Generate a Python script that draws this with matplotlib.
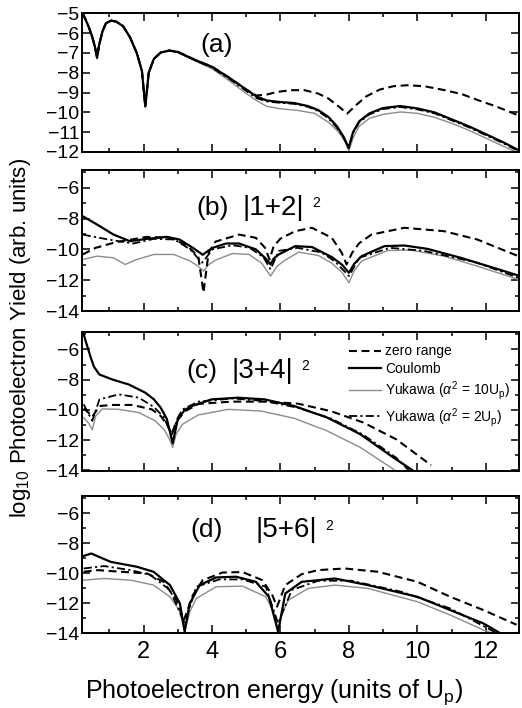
import matplotlib
matplotlib.use("Agg")
import matplotlib.pyplot as plt
from matplotlib.ticker import MultipleLocator

plt.rcParams['font.family'] = ['Liberation Sans', 'DejaVu Sans']
plt.rcParams['mathtext.fontset'] = 'custom'
plt.rcParams['mathtext.rm'] = 'Liberation Sans'
plt.rcParams['mathtext.it'] = 'Liberation Sans:italic'
plt.rcParams['mathtext.bf'] = 'Liberation Sans:bold'

# ---------------- data ----------------
# panel (a)
a_coul_x = [0.22, 0.3, 0.4, 0.5, 0.58, 0.64, 0.7, 0.8, 0.9, 1.05, 1.2, 1.4, 1.6, 1.8, 1.95, 2.05, 2.15, 2.3, 2.5, 2.75,
            3.0, 3.5, 4.0, 4.5, 5.0, 5.3, 5.6, 6.0, 6.4, 6.8, 7.1, 7.4, 7.65, 7.85, 7.99, 8.12, 8.3, 8.6, 9.0, 9.5,
            10.0, 10.5, 11.0, 11.5, 12.0, 12.5, 12.95]
a_coul_y = [-5.0, -5.3, -5.7, -6.2, -6.7, -7.25, -6.6, -5.9, -5.5, -5.37, -5.42, -5.65, -6.2, -7.0, -7.9, -9.7, -8.0, -7.3, -6.98, -6.88,
            -6.95, -7.35, -7.7, -8.25, -8.85, -9.2, -9.4, -9.48, -9.53, -9.68, -9.88, -10.23, -10.7, -11.25, -11.8, -11.0, -10.45, -10.05, -9.78, -9.68,
            -9.8, -10.0, -10.35, -10.7, -11.1, -11.5, -11.9]
a_zero_x = [0.22, 0.3, 0.4, 0.5, 0.58, 0.64, 0.7, 0.8, 0.9, 1.05, 1.2, 1.4, 1.6, 1.8, 1.95, 2.05, 2.15, 2.3, 2.5, 2.75,
            3.0, 3.5, 4.0, 4.5, 5.0, 5.3, 5.6, 5.9, 6.3, 6.7, 7.1, 7.4, 7.7, 7.95, 8.2, 8.5, 8.9, 9.3, 9.7, 10.2,
            10.8, 11.3, 11.8, 12.3, 12.95]
a_zero_y = [-5.0, -5.3, -5.7, -6.2, -6.7, -7.25, -6.6, -5.9, -5.5, -5.37, -5.42, -5.65, -6.2, -7.0, -7.9, -9.7, -8.0, -7.3, -6.98, -6.88,
            -6.95, -7.35, -7.7, -8.25, -8.85, -9.15, -9.1, -8.97, -8.88, -8.88, -9.05, -9.3, -9.7, -10.06, -9.65, -9.2, -8.85, -8.68, -8.63, -8.68,
            -8.88, -9.08, -9.4, -9.7, -10.15]
a_yuk10_x = [0.22, 0.3, 0.4, 0.5, 0.58, 0.64, 0.7, 0.8, 0.9, 1.05, 1.2, 1.4, 1.6, 1.8, 1.95, 2.05, 2.15, 2.3, 2.5, 2.75,
             3.0, 3.5, 4.0, 4.5, 5.0, 5.3, 5.6, 6.0, 6.5, 7.0, 7.4, 7.7, 7.9, 8.0, 8.12, 8.3, 8.6, 9.0, 9.5, 10.0,
             10.5, 11.0, 11.5, 12.0, 12.5, 12.95]
a_yuk10_y = [-5.0, -5.3, -5.7, -6.2, -6.7, -7.25, -6.6, -5.9, -5.5, -5.37, -5.42, -5.65, -6.2, -7.0, -7.9, -9.7, -8.0, -7.3, -6.98, -6.88,
             -6.97, -7.4, -7.8, -8.4, -9.05, -9.4, -9.7, -9.82, -9.9, -10.05, -10.5, -11.0, -11.5, -11.95, -11.3, -10.7, -10.3, -10.1, -9.98, -10.05,
             -10.25, -10.55, -10.9, -11.3, -11.7, -12.05]
a_yuk2_x = [0.22, 0.3, 0.4, 0.5, 0.58, 0.64, 0.7, 0.8, 0.9, 1.05, 1.2, 1.4, 1.6, 1.8, 1.95, 2.05, 2.15, 2.3, 2.5, 2.75,
            3.0, 3.5, 4.0, 4.5, 5.0, 5.3, 5.6, 6.0, 6.4, 6.8, 7.1, 7.4, 7.65, 7.85, 7.99, 8.12, 8.3, 8.6, 9.0, 9.5,
            10.0, 10.5, 11.0, 11.5, 12.0, 12.5, 12.95]
a_yuk2_y = [-5.0, -5.3, -5.7, -6.2, -6.7, -7.25, -6.6, -5.9, -5.5, -5.37, -5.42, -5.65, -6.2, -7.0, -7.9, -9.7, -8.0, -7.3, -6.98, -6.88,
            -6.96, -7.37, -7.74, -8.3, -8.92, -9.28, -9.45, -9.52, -9.57, -9.72, -9.93, -10.3, -10.78, -11.3, -11.8, -11.05, -10.5, -10.1, -9.83, -9.73,
            -9.85, -10.05, -10.4, -10.75, -11.15, -11.55, -11.95]

# panel (b)  |1+2|^2
b_coul_x = [0.22, 0.64, 1.12, 1.6, 2.09, 2.67, 3.05, 3.44, 3.6, 3.73, 3.85, 4.02, 4.41, 4.79, 5.28, 5.57, 5.71, 5.8, 5.95, 6.43,
            6.92, 7.5, 7.8, 8.0, 8.15, 8.37, 9.04, 9.62, 10.3, 11.27, 12.23, 12.95]
b_coul_y = [-7.85, -8.39, -9.04, -9.47, -9.32, -9.19, -9.36, -9.9, -10.15, -10.35, -10.15, -9.9, -9.62, -9.62, -10.0, -10.6, -10.98, -10.6, -10.33, -9.79,
            -9.85, -10.5, -11.0, -11.52, -10.95, -10.44, -9.79, -9.75, -9.97, -10.55, -11.2, -11.7]
b_zero_x = [0.22, 0.6, 1.2, 2.09, 2.8, 3.3, 3.6, 3.75, 3.9, 4.1, 4.79, 5.28, 5.55, 5.68, 5.8, 6.0, 6.43, 6.92, 7.5, 7.79,
            7.93, 8.1, 8.3, 8.66, 9.62, 10.78, 11.75, 12.95]
b_zero_y = [-10.33, -9.9, -9.53, -9.19, -9.25, -9.8, -10.5, -12.8, -10.2, -9.5, -9.04, -9.25, -9.9, -10.66, -9.8, -9.3, -8.82, -8.6, -9.25, -10.22,
            -10.98, -10.2, -9.6, -9.04, -8.6, -8.82, -9.36, -10.44]
b_yuk10_x = [0.22, 0.64, 1.12, 1.46, 1.8, 2.3, 2.88, 3.36, 3.6, 3.75, 3.9, 4.1, 4.6, 5.08, 5.45, 5.71, 5.9, 6.1, 6.53, 7.11,
             7.5, 7.8, 8.0, 8.15, 8.37, 9.14, 9.82, 10.78, 11.75, 12.95]
b_yuk10_y = [-10.66, -10.44, -10.55, -10.98, -10.66, -10.33, -10.33, -10.76, -11.1, -11.41, -11.0, -10.7, -10.27, -10.33, -10.9, -11.73, -11.1, -10.75, -10.18, -10.4,
             -10.9, -11.5, -12.17, -11.4, -10.76, -10.07, -10.05, -10.44, -11.09, -11.95]
b_yuk2_x = [0.22, 0.7, 1.26, 1.7, 2.3, 2.9, 3.36, 3.71, 4.02, 4.6, 5.1, 5.5, 5.71, 5.95, 6.5, 7.2, 7.6, 8.0, 8.3, 9.2,
            10.2, 11.75, 12.95]
b_yuk2_y = [-9.04, -9.25, -9.47, -9.62, -9.32, -9.36, -10.0, -10.87, -10.0, -9.73, -9.9, -10.5, -11.3, -10.1, -9.9, -10.2, -10.8, -11.73, -10.55, -9.9,
            -10.1, -10.87, -11.84]

# panel (c)  |3+4|^2
c_coul_x = [0.25, 0.3, 0.37, 0.45, 0.55, 0.71, 1.09, 1.57, 2.05, 2.3, 2.5, 2.68, 2.85, 3.0, 3.2, 3.41, 3.99, 4.76, 5.53, 6.4,
            7.36, 8.33, 9.29, 9.87]
c_coul_y = [-5.0, -5.4, -5.91, -6.5, -7.15, -7.66, -7.99, -8.32, -8.86, -9.3, -9.85, -10.6, -12.2, -10.6, -10.0, -9.74, -9.3, -9.19, -9.3, -9.74,
            -10.5, -11.6, -13.13, -14.0]
c_zero_x = [0.25, 0.4, 0.5, 0.71, 1.09, 1.67, 2.24, 2.5, 2.7, 2.82, 2.95, 3.2, 3.6, 4.57, 5.53, 6.5, 7.46, 8.42, 9.39, 10.4]
c_zero_y = [-9.9, -10.2, -10.45, -9.74, -9.67, -9.67, -9.96, -10.4, -11.0, -11.6, -10.8, -10.1, -9.6, -9.45, -9.45, -9.58, -10.07, -10.83, -11.95, -13.65]
c_yuk10_x = [0.25, 0.4, 0.5, 0.6, 0.8, 1.28, 1.86, 2.34, 2.6, 2.75, 2.85, 2.95, 3.14, 3.6, 4.47, 5.43, 6.4, 7.36, 8.33, 9.29, 9.35]
c_yuk10_y = [-10.5, -10.9, -11.3, -10.4, -9.93, -9.96, -10.17, -10.72, -11.3, -11.9, -12.47, -11.6, -10.94, -10.33, -9.96, -10.07, -10.55, -11.38, -12.47, -13.9, -14.0]
c_yuk2_x = [0.25, 0.4, 0.5, 0.71, 1.28, 1.86, 2.3, 2.6, 2.82, 3.0, 3.14, 3.6, 4.6, 5.53, 6.5, 7.46, 8.42, 9.39, 9.75]
c_yuk2_y = [-9.63, -10.3, -10.72, -9.3, -8.97, -9.19, -9.8, -10.5, -11.7, -10.5, -9.96, -9.45, -9.24, -9.41, -9.85, -10.55, -11.64, -13.17, -14.0]

# panel (d)  |5+6|^2
d_coul_x = [0.25, 0.47, 1.04, 1.81, 2.29, 2.77, 3.06, 3.2, 3.35, 3.64, 4.12, 4.7, 5.28, 5.66, 5.93, 6.14, 6.62, 7.59, 8.55, 10.0,
            10.96, 11.93, 12.41]
d_coul_y = [-8.85, -8.69, -9.25, -9.58, -9.91, -10.8, -12.02, -13.9, -12.02, -10.8, -10.29, -10.24, -10.58, -11.58, -13.9, -11.36, -10.58, -10.36, -10.8, -11.58,
            -12.47, -13.36, -14.0]
d_zero_x = [0.25, 0.66, 1.33, 2.1, 2.58, 2.96, 3.18, 3.44, 3.73, 4.31, 4.89, 5.47, 5.76, 5.9, 6.14, 6.62, 7.1, 7.88, 8.84, 10.0,
            10.96, 11.93, 12.9]
d_zero_y = [-9.91, -9.8, -9.91, -10.02, -10.58, -11.8, -13.13, -11.47, -10.47, -9.96, -9.93, -10.47, -11.47, -12.24, -10.8, -10.07, -9.8, -9.69, -9.91, -10.58,
            -11.58, -12.47, -13.45]
d_yuk10_x = [0.25, 0.85, 1.62, 2.29, 2.77, 3.05, 3.2, 3.35, 3.54, 4.12, 4.89, 5.57, 5.8, 5.93, 6.05, 6.23, 6.81, 7.59, 8.55, 10.0,
             10.96, 11.93, 12.17]
d_yuk10_y = [-10.47, -10.36, -10.47, -10.8, -11.58, -12.5, -13.9, -12.6, -11.69, -10.91, -10.87, -11.58, -12.6, -13.9, -12.7, -11.8, -11.02, -10.8, -11.02, -11.91,
             -12.8, -13.8, -14.0]
d_yuk2_x = [0.25, 0.85, 1.62, 2.2, 2.77, 3.2, 3.54, 4.22, 4.89, 5.57, 5.93, 6.33, 7.1, 8.07, 9.52, 10.96, 12.31]
d_yuk2_y = [-9.69, -9.53, -9.8, -10.13, -11.13, -13.36, -10.91, -10.42, -10.42, -10.91, -13.36, -11.13, -10.51, -10.51, -11.24, -12.36, -14.0]

series_labels = ['zero range', 'Coulomb', r'Yukawa ($\alpha^{2}$ = 10U$_{\rm p}$)', r'Yukawa ($\alpha^{2}$ = 2U$_{\rm p}$)']
panel_tags = ['(a)', '(b)', '(c)', '(d)']
panel_terms = ['', '|1+2|', '|3+4|', '|5+6|']
x_ticks = [2, 4, 6, 8, 10, 12]
x_label = r'Photoelectron energy (units of U$_{\rm p}$)'
y_label = r'log$_{10}$ Photoelectron Yield (arb. units)'

# ---------------- figure ----------------
W, H = 522, 708
fig = plt.figure(figsize=(W / 100, H / 100), dpi=100)

def frac(top_px, bot_px):
    return [82 / W, 1 - bot_px / H, (519 - 82) / W, (bot_px - top_px) / H]

axes = [fig.add_axes(frac(13.3, 152)),
        fig.add_axes(frac(170, 311)),
        fig.add_axes(frac(332, 470.5)),
        fig.add_axes(frac(496, 633))]

styles = dict(
    zero=dict(color='black', lw=1.5, ls=(0, (3.8, 2.2))),
    coul=dict(color='black', lw=1.6, ls='-'),
    yuk10=dict(color='0.55', lw=1.0, ls='-'),
    yuk2=dict(color='black', lw=1.3, ls=(0, (4.5, 1.8, 1.2, 1.8))),
)

data = [
    (a_zero_x, a_zero_y, a_coul_x, a_coul_y, a_yuk10_x, a_yuk10_y, a_yuk2_x, a_yuk2_y),
    (b_zero_x, b_zero_y, b_coul_x, b_coul_y, b_yuk10_x, b_yuk10_y, b_yuk2_x, b_yuk2_y),
    (c_zero_x, c_zero_y, c_coul_x, c_coul_y, c_yuk10_x, c_yuk10_y, c_yuk2_x, c_yuk2_y),
    (d_zero_x, d_zero_y, d_coul_x, d_coul_y, d_yuk10_x, d_yuk10_y, d_yuk2_x, d_yuk2_y),
]

for i, ax in enumerate(axes):
    zx, zy, cx, cy, y1x, y1y, y2x, y2y = data[i]
    ax.plot(y1x, y1y, label=series_labels[2], zorder=2, **styles['yuk10'])
    ax.plot(y2x, y2y, label=series_labels[3], zorder=3, **styles['yuk2'])
    ax.plot(zx, zy, label=series_labels[0], zorder=3, **styles['zero'])
    ax.plot(cx, cy, label=series_labels[1], zorder=4, **styles['coul'])
    ax.set_xlim(0.2, 12.97)
    ax.xaxis.set_major_locator(MultipleLocator(2))
    ax.xaxis.set_minor_locator(MultipleLocator(1))
    if i == 0:
        ax.set_ylim(-12, -5)
        ax.yaxis.set_major_locator(MultipleLocator(1))
    else:
        ax.set_ylim(-14, -4.85)
        ax.set_yticks([-14, -12, -10, -8, -6])
        ax.yaxis.set_minor_locator(MultipleLocator(1))
    ax.tick_params(which='both', direction='in', top=True, right=True, width=1.1)
    ax.tick_params(which='major', length=5.5)
    ax.tick_params(which='minor', length=3)
    ax.tick_params(axis='y', labelsize=14, pad=2)
    ax.tick_params(axis='x', labelsize=17, pad=6)
    for sp in ax.spines.values():
        sp.set_linewidth(1.4)
    if i < 3:
        ax.set_xticklabels([])
    else:
        ax.set_xticks(x_ticks)

# panel annotations
axes[0].text(3.65, -6.6, panel_tags[0], fontsize=19, va='center', ha='left')
ann = [(1, 3.54, -7.3, 4.88), (2, 3.24, -7.4, 4.57), (3, 3.36, -7.15, 5.27)]
for idx, xt, yt, xm in ann:
    axes[idx].text(xt, yt, panel_tags[idx], fontsize=19, va='center', ha='left')
    term = axes[idx].text(xm, yt, panel_terms[idx], fontsize=20, va='center', ha='left')
    axes[idx].annotate('2', xy=(1, 1), xycoords=term, xytext=(6, -1),
                       textcoords='offset points', fontsize=10, va='top', ha='left')

# legend in panel (c)
h, l = axes[2].get_legend_handles_labels()
order = [2, 3, 0, 1]
axes[2].legend([h[k] for k in order], [l[k] for k in order], loc='upper left',
               bbox_to_anchor=(0.612, 0.91), frameon=False, fontsize=10,
               handlelength=2.3, handletextpad=0.25, labelspacing=0.25,
               borderpad=0, borderaxespad=0)

fig.text(0.04, 0.522, y_label, rotation=90, fontsize=16, ha='center', va='center')
fig.text(0.525, 0.022, x_label, fontsize=18, ha='center', va='center')

fig.savefig('out.png', dpi=100)
